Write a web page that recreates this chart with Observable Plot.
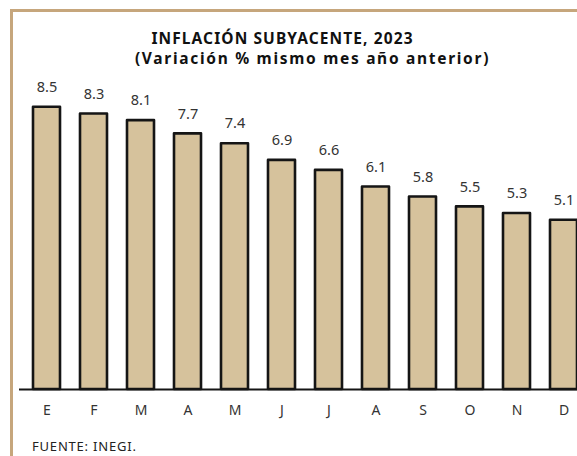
<!DOCTYPE html>
<html>
<head>
<meta charset="utf-8">
<script src="https://cdn.jsdelivr.net/npm/d3@7"></script>
<script src="https://cdn.jsdelivr.net/npm/@observablehq/plot@0.6"></script>
<style>
  html, body { margin: 0; padding: 0; background: #fff; overflow: hidden; }
  #wrap { position: relative; width: 577px; height: 456px; overflow: hidden; background: #fff; font-family: "Noto Sans", Lato, sans-serif; }
  #frame { position: absolute; left: 10px; top: 9px; width: 600px; height: 500px; border-top: 3px solid #c6a67c; border-left: 3px solid #c6a67c; }
  .title { position: absolute; left: 0; width: 577px; text-align: center; font-weight: 700; color: #111; }
  #t1 { top: 27px; left: -6px; font-size: 15.5px; letter-spacing: 1.1px; }
  #t2 { top: 47px; left: 24px; font-size: 15.5px; letter-spacing: 1.7px; }
  #cap { position: absolute; left: 32px; top: 437px; font-size: 13px; color: #222; letter-spacing: 0.8px; }
  #chart { position: absolute; left: 0; top: 0; }
</style>
</head>
<body>
<div id="wrap">
  <div id="frame"></div>
  <div class="title" id="t1">INFLACIÓN SUBYACENTE, 2023</div>
  <div class="title" id="t2">(Variación % mismo mes año anterior)</div>
  <div id="chart"></div>
  <div id="cap">FUENTE: INEGI.</div>
</div>
<script>
const months = ["E","F","M","A","M ","J","J ","A ","S","O","N","D"];
const monthLabels = ["E","F","M","A","M","J","J","A","S","O","N","D"];
const values = [8.5, 8.3, 8.1, 7.7, 7.4, 6.9, 6.6, 6.1, 5.8, 5.5, 5.3, 5.1];

const data = months.map((m, i) => ({month: m, label: monthLabels[i], value: values[i]}));

const plot = Plot.plot({
  width: 577,
  height: 456,
  marginLeft: 19,
  marginRight: 0,
  marginTop: 0,
  marginBottom: 67,
  style: {background: "transparent", fontFamily: "'Noto Sans', Lato, sans-serif"},
  x: {domain: months, range: [10.6, 599.3], padding: 0.43},
  y: {domain: [0, 10], range: [389, 57], axis: null},
  marks: [
    Plot.barY(data, {x: "month", y: "value", fill: "#d6c29c", stroke: "#151515", strokeWidth: 2.6, strokeLinejoin: "round"}),
    Plot.ruleY([0], {stroke: "#151515", strokeWidth: 2}),
    Plot.text(data, {x: "month", y: "value", text: (d) => d.value.toFixed(1), dy: -20, fontSize: 14.5, fill: "#333"}),
    Plot.axisX({tickSize: 0, tickPadding: 16, fontSize: 14, color: "#333", label: null, tickFormat: (d) => d.trim()})
  ]
});
document.getElementById("chart").appendChild(plot);
</script>
</body>
</html>
